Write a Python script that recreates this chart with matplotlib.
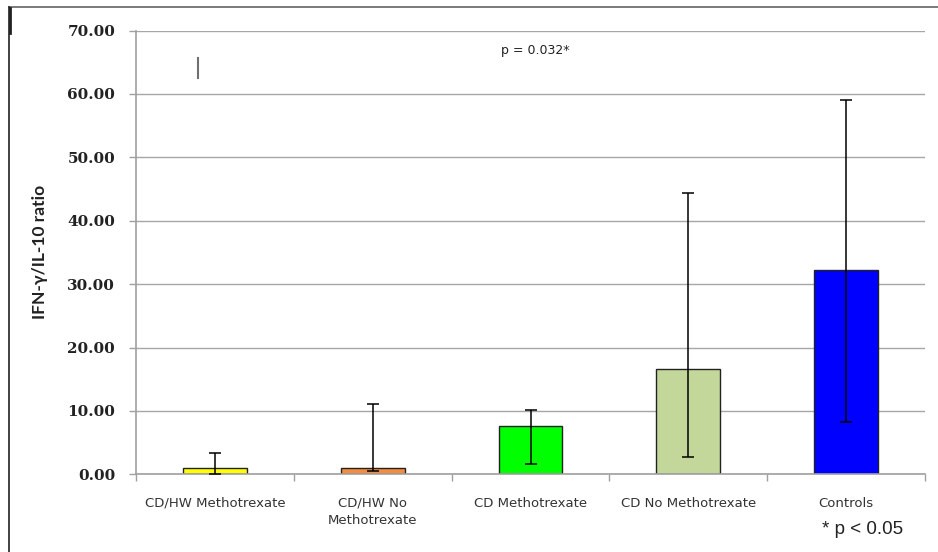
import matplotlib
matplotlib.use("Agg")
import matplotlib.pyplot as plt
from matplotlib.lines import Line2D
import numpy as np

# Group data: IFN-gamma / IL-10 ratio, mean with error range
categories = ["CD/HW Methotrexate", "CD/HW No\nMethotrexate", "CD Methotrexate",
              "CD No Methotrexate", "Controls"]
means = [1.0, 1.0, 7.6, 16.6, 32.2]
err_high = [3.3, 11.1, 10.1, 44.4, 59.0]
err_low = [0.0, 0.5, 1.6, 2.8, 8.2]
colors = ["#FFFF00", "#F58B3F", "#00FF00", "#C4D79B", "#0000FF"]
y_ticks = [0, 10, 20, 30, 40, 50, 60, 70]
stray_mark = [62.5, 65.7]

fig = plt.figure(figsize=(9.38, 5.52), dpi=100)
ax = fig.add_axes([136 / 938, 1 - 474.3 / 552, (925 - 136) / 938, (474.3 - 30.5) / 552])

x = np.arange(len(categories))
yerr = np.array([np.array(means) - np.array(err_low), np.array(err_high) - np.array(means)])

ax.set_axisbelow(True)
ax.yaxis.grid(True, color="#A6A6A6", linewidth=1.0)
ax.bar(x, means, width=0.405, color=colors, edgecolor="#222222", linewidth=1.0, zorder=2)
ax.errorbar(x, means, yerr=yerr, fmt="none", ecolor="black", elinewidth=1.1,
            capsize=4, capthick=1.1, zorder=3)

# small stray marker near the top-left of the plot
ax.plot([-0.109, -0.109], stray_mark, color="#707070", linewidth=1.5, zorder=3)

ax.set_xlim(-0.5, len(categories) - 0.5)
ax.set_ylim(0, 70)
ax.set_yticks(y_ticks)
ax.set_yticklabels([f"{v:.2f}" for v in y_ticks], fontfamily="DejaVu Serif",
                   fontweight="bold", fontsize=11, color="#222222")
ax.tick_params(axis="y", length=5, width=1, color="#A0A0A0", pad=10)

ax.set_xticks(np.arange(len(categories) + 1) - 0.5)
ax.set_xticklabels([])
ax.tick_params(axis="x", which="major", length=5, width=1, color="#A0A0A0")
ax.set_xticks(x, minor=True)
ax.set_xticklabels(categories, minor=True, fontfamily="DejaVu Sans", fontsize=9.5,
                   color="#333333", linespacing=1.4)
ax.tick_params(axis="x", which="minor", length=0, pad=16)

for side in ("top", "right"):
    ax.spines[side].set_visible(False)
for side in ("left", "bottom"):
    ax.spines[side].set_color("#A0A0A0")
    ax.spines[side].set_linewidth(1.2)

ax.set_ylabel("IFN-\u03b3/IL-10 ratio", fontfamily="Lato", fontweight="bold",
              fontsize=12.5, color="#222222", labelpad=14)

ax.text(2.03, 66.8, "p = 0.032*", ha="center", va="center", fontfamily="DejaVu Sans",
        fontsize=9, color="#222222")
fig.text(822 / 938, 1 - 530 / 552, "* p < 0.05", ha="left", va="center",
         fontfamily="Liberation Sans", fontsize=13.5, color="#222222")

# page frame lines
fig.add_artist(Line2D([8.5 / 938, 1.0], [1 - 6.5 / 552, 1 - 6.5 / 552],
                      transform=fig.transFigure, color="#707070", linewidth=1.3))
fig.add_artist(Line2D([8.5 / 938, 8.5 / 938], [0, 1 - 6.5 / 552],
                      transform=fig.transFigure, color="#333333", linewidth=1.3))
fig.add_artist(Line2D([9.5 / 938, 9.5 / 938], [1 - 33 / 552, 1 - 8 / 552],
                      transform=fig.transFigure, color="#222222", linewidth=2.0))

fig.savefig("out.png", dpi=100, facecolor="white")
